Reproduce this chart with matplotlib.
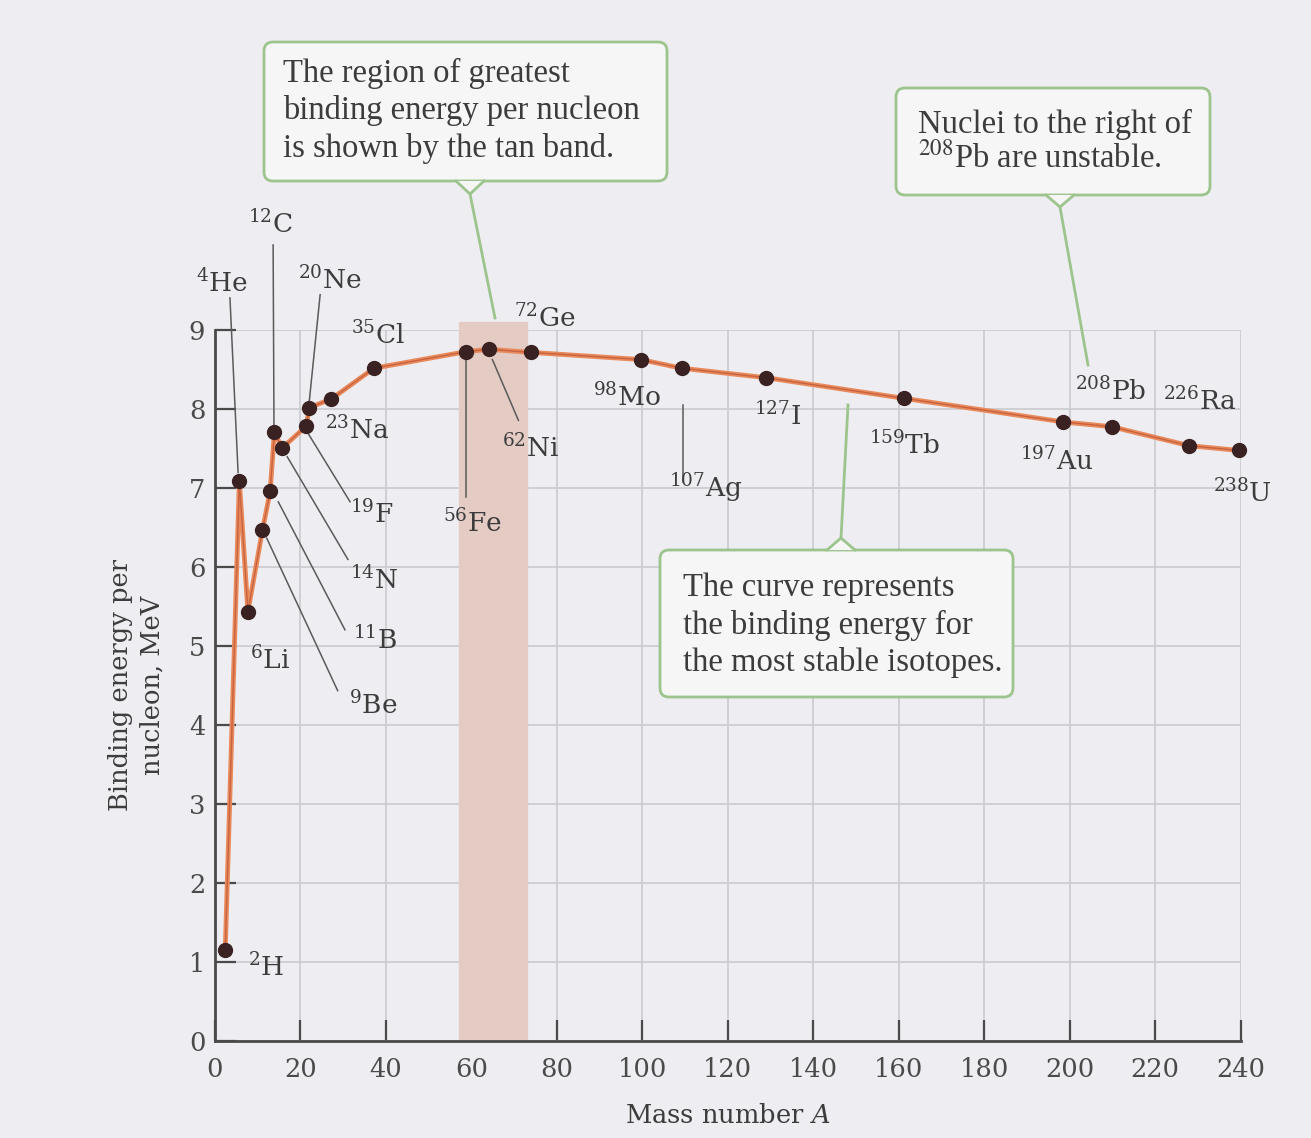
import matplotlib.pyplot as plt
from matplotlib.patches import FancyBboxPatch, Polygon

plt.rcParams['font.family'] = ['DejaVu Serif']

# isotopes along the curve
symbols = ['H', 'He', 'Li', 'Be', 'B', 'C', 'N', 'F', 'Ne', 'Na', 'Cl',
           'Fe', 'Ni', 'Ge', 'Mo', 'Ag', 'I', 'Tb', 'Au', 'Pb', 'Ra', 'U']
mass_numbers = [2, 4, 6, 9, 11, 12, 14, 19, 20, 23, 35,
                56, 62, 72, 98, 107, 127, 159, 197, 208, 226, 238]
# horizontal position of each dot as it sits on the printed axis
mass_drawn = [2.4, 5.7, 7.7, 11.1, 12.9, 13.9, 15.7, 21.4, 22.0, 27.2, 37.2,
              58.8, 64.0, 74.0, 99.6, 109.2, 129.0, 161.1, 198.5, 209.8, 227.9, 239.5]
binding_energy = [1.15, 7.08, 5.43, 6.46, 6.95, 7.70, 7.50, 7.78, 8.01, 8.12, 8.51,
                  8.72, 8.75, 8.71, 8.62, 8.51, 8.39, 8.13, 7.83, 7.77, 7.53, 7.47]

band_lo, band_hi = 57, 73   # tan band, mass number

x_ticks = list(range(0, 241, 20))
y_ticks = list(range(0, 10))

# label centres (data coords), same order as symbols
label_pos = [(11.9, 0.93), (1.6, 9.59), (12.9, 4.82), (37.0, 4.25), (37.5, 5.07),
             (12.9, 10.33), (37.2, 5.83), (36.8, 6.66), (26.9, 9.63), (33.3, 7.73),
             (38.2, 8.93), (60.2, 6.55), (73.8, 7.50), (77.3, 9.15), (96.5, 8.15),
             (114.8, 7.00), (131.6, 7.91), (161.4, 7.54), (197.0, 7.33),
             (209.6, 8.22), (230.4, 8.10), (240.3, 6.93)]
# leader lines from label to dot
leaders = {
    'He': (3.5, 9.40, 5.4, 7.19),
    'C': (13.6, 10.07, 13.8, 7.75),
    'Ne': (24.6, 9.44, 22.0, 8.06),
    'F': (21.5, 7.71, 31.6, 6.82),
    'N': (16.9, 7.39, 31.1, 6.09),
    'B': (14.8, 6.82, 30.4, 5.20),
    'Be': (12.1, 6.36, 28.7, 4.43),
    'Fe': (58.8, 8.66, 58.8, 6.88),
    'Ni': (64.9, 8.62, 71.0, 7.85),
    'Ag': (109.5, 8.04, 109.5, 7.07),
}

bg = '#eeeef2'
ink = '#3c3c3c'
green = '#9cc48c'
box_fc = '#f6f6f7'

fig = plt.figure(figsize=(13.11, 11.38), dpi=100, facecolor=bg)
ax = fig.add_axes([215 / 1311, 97.3 / 1138, 1025.7 / 1311, 711.2 / 1138])
ax.set_facecolor(bg)
ax.set_xlim(0, 240)
ax.set_ylim(0, 9)

ax.axvspan(band_lo, band_hi, ymin=0, ymax=1.01, color='#e4cbc3', zorder=1, clip_on=False)
ax.set_xticks(x_ticks)
ax.set_yticks(y_ticks)
ax.grid(True, color='#c9c9cf', lw=1.2, zorder=0)
ax.set_axisbelow(True)
for side in ['top', 'right']:
    ax.spines[side].set_visible(False)
for side in ['left', 'bottom']:
    ax.spines[side].set_color('#4a4a4a')
    ax.spines[side].set_linewidth(2)
ax.tick_params(direction='in', length=15, width=1.6, color='#4a4a4a',
               labelsize=18.5, labelcolor='#4a4a4a')
ax.tick_params(axis='x', pad=12)
ax.tick_params(axis='y', pad=7)

ax.plot(mass_drawn, binding_energy, color='#e98a5c', lw=3.5, zorder=3, clip_on=False)
ax.plot(mass_drawn, binding_energy, color='#c8623f', lw=1, zorder=3, clip_on=False)
ax.plot(mass_drawn, binding_energy, 'o', color='#3b2222', ms=10, zorder=4, clip_on=False)

for sym, a, (lx, ly) in zip(symbols, mass_numbers, label_pos):
    ax.text(lx, ly, rf'$^{{{a}}}$' + sym, ha='center', va='center', fontsize=19,
            color=ink, math_fontfamily='dejavuserif', clip_on=False, zorder=5)
for sym, (x1, y1, x2, y2) in leaders.items():
    ax.plot([x1, x2], [y1, y2], color='#5a5a5a', lw=1.1, zorder=2, clip_on=False)

ax.text(-0.077, 0.5, 'Binding energy per\nnucleon, MeV', transform=ax.transAxes,
        rotation=90, ha='center', va='center', multialignment='center',
        fontsize=18.5, color=ink, linespacing=1.3)
ax.text(0.5, -0.105, r'Mass number $\mathit{A}$', transform=ax.transAxes,
        ha='center', va='center', fontsize=18.5, color=ink, math_fontfamily='dejavuserif')


# callouts, laid out in picture pixels
def px(x, y):
    return (x / 100, (1138 - y) / 100)


tr = fig.dpi_scale_trans


def callout(x0, y0, x1, y1, lines, text_x, text_ys, notch, tip):
    fig.patches.append(FancyBboxPatch(px(x0, y1), (x1 - x0) / 100, (y1 - y0) / 100,
                                      boxstyle='round,pad=0,rounding_size=0.09',
                                      fc=box_fc, ec=green, lw=2, transform=tr, zorder=6))
    nx, edge, apex = notch
    fig.patches.append(Polygon([px(nx - 14, edge), px(nx, apex), px(nx + 14, edge)],
                               closed=True, fc=box_fc, ec='none', transform=tr, zorder=6))
    xs, ys = zip(px(nx - 14, edge), px(nx, apex), px(nx + 14, edge))
    fig.lines.append(plt.Line2D(xs, ys, color=green, lw=2, transform=tr, zorder=7))
    xs, ys = zip(px(nx, apex), px(*tip))
    fig.lines.append(plt.Line2D(xs, ys, color=green, lw=2, transform=tr, zorder=7))
    for line, ty in zip(lines, text_ys):
        fig.text(*px(text_x, ty), line, transform=tr, ha='left', va='center',
                 fontsize=23.5, family='Liberation Serif', color=ink,
                 math_fontfamily='stix', zorder=8)


callout(264, 42, 667, 181,
        ['The region of greatest', 'binding energy per nucleon', 'is shown by the tan band.'],
        283, [73, 111, 148], (470, 181, 194), (495, 318))
callout(896, 88, 1210, 195,
        ['Nuclei to the right of', r'$^{208}$Pb are unstable.'],
        918, [124, 158], (1060, 195, 207), (1088, 365))
callout(660, 550, 1013, 697,
        ['The curve represents', 'the binding energy for', 'the most stable isotopes.'],
        683, [588, 625, 662], (841, 550, 538), (848, 405))

fig.savefig('out.png', dpi=100, facecolor=bg)
